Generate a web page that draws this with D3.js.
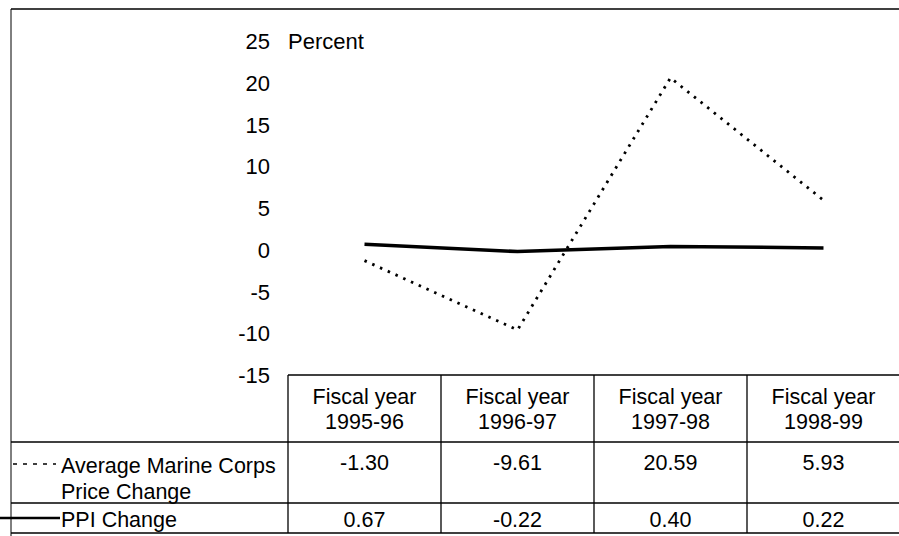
<!DOCTYPE html>
<html>
<head>
<meta charset="utf-8">
<script src="https://cdn.jsdelivr.net/npm/d3@7"></script>
<style>
  body { margin: 0; background: #fff; }
  text { font-family: 'Liberation Sans', Arial, sans-serif; fill: #000; }
</style>
</head>
<body>
<script>
// data
var years = ['1995-96', '1996-97', '1997-98', '1998-99'];
var marine = [-1.30, -9.61, 20.59, 5.93];
var ppi = [0.67, -0.22, 0.40, 0.22];
var marineLabels = ['-1.30', '-9.61', '20.59', '5.93'];
var ppiLabels = ['0.67', '-0.22', '0.40', '0.22'];
var yTicks = [25, 20, 15, 10, 5, 0, -5, -10, -15];

var W = 899, H = 536;
var fs = 21.5,
	axisFs = 22;

var svg = d3.select('body').append('svg')
	.attr('width', W)
	.attr('height', H);

var x = d3.scaleBand()
	.domain(years)
	.range([288, 900]);

var y = d3.scaleLinear()
	.domain([-15, 25])
	.range([375, 41]);

// table rows
var rowHeader = [375, 442],
	rowMarine = [442, 503],
	rowPpi = [503, 533];

// outer frame
svg.append('line')
	.attr('x1', 11).attr('y1', 9).attr('x2', W).attr('y2', 9)
	.attr('stroke', '#000').attr('stroke-width', 1.5);
svg.append('line')
	.attr('x1', 11).attr('y1', 9).attr('x2', 11).attr('y2', H)
	.attr('stroke', '#000').attr('stroke-width', 1);

// y axis (labels only)
var yAxis = d3.axisLeft(y)
	.tickValues(yTicks)
	.tickSize(0)
	.tickPadding(0)
	.tickFormat(function(d) { return String(d); });

var ax = svg.append('g')
	.attr('transform', 'translate(270,0)')
	.call(yAxis);
ax.select('.domain').remove();
ax.selectAll('text')
	.attr('font-size', axisFs)
	.attr('font-family', "'Liberation Sans', Arial, sans-serif")
	.attr('dy', '0.35em');

svg.append('text')
	.attr('x', 288)
	.attr('y', y(25))
	.attr('dy', '0.35em')
	.attr('font-size', axisFs)
	.text('Percent');

// lines
var line = d3.line()
	.x(function(d, i) { return x(years[i]) + x.bandwidth() / 2; })
	.y(function(d) { return y(d); });

svg.append('path')
	.attr('d', line(ppi))
	.attr('fill', 'none')
	.attr('stroke', '#000')
	.attr('stroke-width', 3.5);

svg.append('path')
	.attr('d', line(marine))
	.attr('fill', 'none')
	.attr('stroke', '#000')
	.attr('stroke-width', 2.8)
	.attr('stroke-dasharray', '2.5,6');

// table grid
var grid = svg.append('g')
	.attr('stroke', '#000')
	.attr('stroke-width', 1.3);

grid.append('line')
	.attr('x1', x.range()[0]).attr('x2', W)
	.attr('y1', rowHeader[0]).attr('y2', rowHeader[0]);
[rowMarine[0], rowPpi[0], rowPpi[1]].forEach(function(yy) {
	grid.append('line')
		.attr('x1', 11).attr('x2', W)
		.attr('y1', yy).attr('y2', yy);
});
years.forEach(function(yr) {
	grid.append('line')
		.attr('x1', x(yr)).attr('x2', x(yr))
		.attr('y1', rowHeader[0]).attr('y2', rowPpi[1]);
});

// header cells
years.forEach(function(yr) {
	var cx = x(yr) + x.bandwidth() / 2;
	svg.append('text')
		.attr('x', cx).attr('y', 396)
		.attr('dy', '0.35em')
		.attr('text-anchor', 'middle')
		.attr('font-size', fs)
		.text('Fiscal year');
	svg.append('text')
		.attr('x', cx).attr('y', 421)
		.attr('dy', '0.35em')
		.attr('text-anchor', 'middle')
		.attr('font-size', fs)
		.text(yr);
});

// value cells
years.forEach(function(yr, i) {
	var cx = x(yr) + x.bandwidth() / 2;
	svg.append('text')
		.attr('x', cx).attr('y', 462)
		.attr('dy', '0.35em')
		.attr('text-anchor', 'middle')
		.attr('font-size', fs)
		.text(marineLabels[i]);
	svg.append('text')
		.attr('x', cx).attr('y', 519)
		.attr('dy', '0.35em')
		.attr('text-anchor', 'middle')
		.attr('font-size', fs)
		.text(ppiLabels[i]);
});

// legend keys
svg.append('line')
	.attr('x1', 13).attr('x2', 56)
	.attr('y1', 464).attr('y2', 464)
	.attr('stroke', '#000')
	.attr('stroke-width', 1.5)
	.attr('stroke-dasharray', '4,6');
svg.append('text')
	.attr('x', 61).attr('y', 465)
	.attr('dy', '0.35em')
	.attr('font-size', fs)
	.text('Average Marine Corps');
svg.append('text')
	.attr('x', 61).attr('y', 491)
	.attr('dy', '0.35em')
	.attr('font-size', fs)
	.text('Price Change');

svg.append('line')
	.attr('x1', 0).attr('x2', 60)
	.attr('y1', 518).attr('y2', 518)
	.attr('stroke', '#000')
	.attr('stroke-width', 2.5);
svg.append('text')
	.attr('x', 61).attr('y', 519)
	.attr('dy', '0.35em')
	.attr('font-size', fs)
	.text('PPI Change');
</script>
</body>
</html>
